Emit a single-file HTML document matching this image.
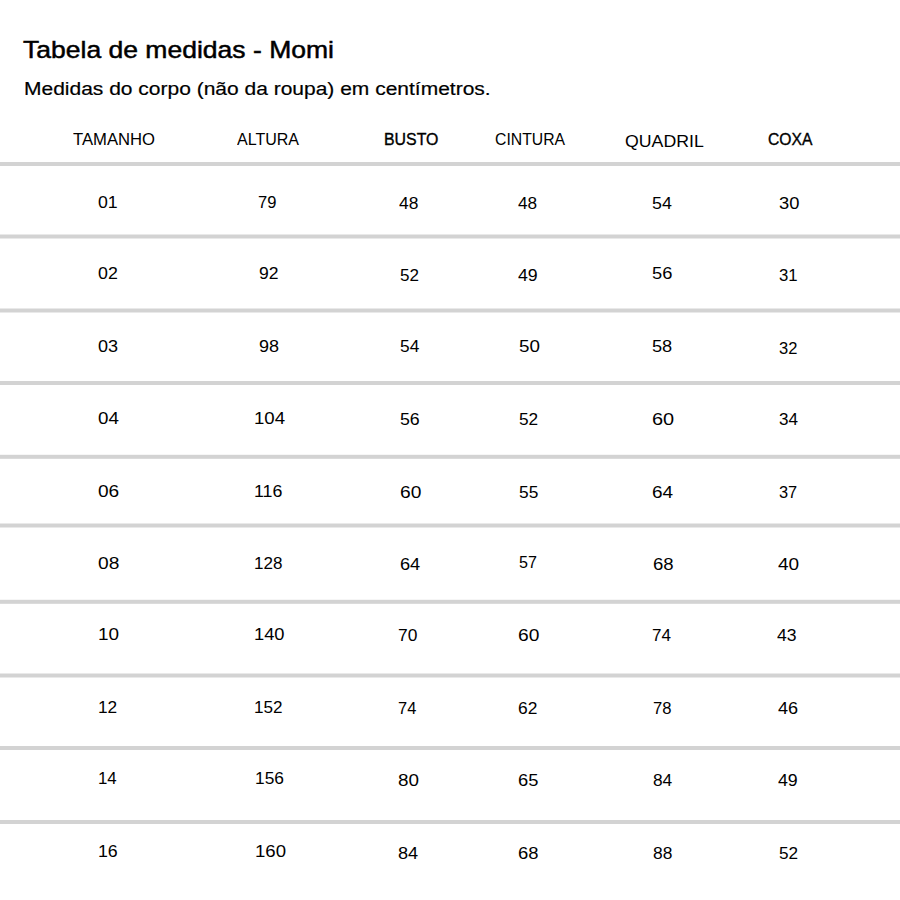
<!DOCTYPE html>
<html><head><meta charset="utf-8"><title>Tabela de medidas - Momi</title>
<style>
html,body{margin:0;padding:0;background:#fff;}
body{width:900px;height:900px;position:relative;overflow:hidden;font-family:"Liberation Sans",sans-serif;}
span{position:absolute;white-space:nowrap;line-height:1;transform-origin:0 0;}
svg{position:absolute;left:0;top:0;}
</style></head><body>
<svg width="900" height="900" viewBox="0 0 900 900"><g fill="#d3d3d3"><rect x="0" y="162.0" width="900" height="4"/><rect x="0" y="234.5" width="900" height="4"/><rect x="0" y="308.5" width="900" height="4"/><rect x="0" y="381.0" width="900" height="4"/><rect x="0" y="454.8" width="900" height="4"/><rect x="0" y="523.5" width="900" height="4"/><rect x="0" y="599.8" width="900" height="4"/><rect x="0" y="673.5" width="900" height="4"/><rect x="0" y="746.0" width="900" height="4"/><rect x="0" y="820.0" width="900" height="4"/></g></svg>
<span style="left:22.63px;top:37.66px;font-size:24.50px;font-weight:normal;color:#000;transform:scaleX(1.0823);-webkit-text-stroke:0.5px #000;">Tabela de medidas - Momi</span>
<span style="left:24.22px;top:79.37px;font-size:19.10px;font-weight:normal;color:#000;transform:scaleX(1.0992);-webkit-text-stroke:0.2px #000;">Medidas do corpo (não da roupa) em centímetros.</span>
<span style="left:72.81px;top:132.28px;font-size:16.00px;font-weight:normal;color:#000;transform:scaleX(1.0410);">TAMANHO</span>
<span style="left:236.85px;top:132.48px;font-size:16.00px;font-weight:normal;color:#000;transform:scaleX(1.0017);">ALTURA</span>
<span style="left:384.09px;top:132.43px;font-size:16.00px;font-weight:normal;color:#000;transform:scaleX(0.9925);-webkit-text-stroke:0.35px #000;">BUSTO</span>
<span style="left:495.43px;top:132.28px;font-size:16.00px;font-weight:normal;color:#000;transform:scaleX(0.9850);">CINTURA</span>
<span style="left:624.96px;top:132.88px;font-size:17.00px;font-weight:normal;color:#000;transform:scaleX(1.0423);">QUADRIL</span>
<span style="left:768.45px;top:132.41px;font-size:16.00px;font-weight:normal;color:#000;transform:scaleX(0.9773);-webkit-text-stroke:0.35px #000;">COXA</span>
<span style="left:98.43px;top:195.06px;font-size:16.00px;font-weight:normal;color:#000;transform:scaleX(1.1068);">01</span>
<span style="left:258.18px;top:195.04px;font-size:16.00px;font-weight:normal;color:#000;transform:scaleX(1.0345);">79</span>
<span style="left:399.30px;top:195.78px;font-size:16.00px;font-weight:normal;color:#000;transform:scaleX(1.0877);">48</span>
<span style="left:518.02px;top:195.79px;font-size:16.00px;font-weight:normal;color:#000;transform:scaleX(1.0746);">48</span>
<span style="left:652.35px;top:195.82px;font-size:16.00px;font-weight:normal;color:#000;transform:scaleX(1.1131);">54</span>
<span style="left:778.86px;top:195.75px;font-size:16.00px;font-weight:normal;color:#000;transform:scaleX(1.1453);">30</span>
<span style="left:98.22px;top:266.31px;font-size:16.00px;font-weight:normal;color:#000;transform:scaleX(1.1109);">02</span>
<span style="left:259.41px;top:265.79px;font-size:16.00px;font-weight:normal;color:#000;transform:scaleX(1.0965);">92</span>
<span style="left:399.67px;top:268.28px;font-size:16.00px;font-weight:normal;color:#000;transform:scaleX(1.0659);">52</span>
<span style="left:517.50px;top:268.23px;font-size:16.00px;font-weight:normal;color:#000;transform:scaleX(1.1079);">49</span>
<span style="left:652.16px;top:266.14px;font-size:16.00px;font-weight:normal;color:#000;transform:scaleX(1.1430);">56</span>
<span style="left:778.52px;top:268.01px;font-size:16.00px;font-weight:normal;color:#000;transform:scaleX(1.0458);">31</span>
<span style="left:97.72px;top:339.35px;font-size:16.00px;font-weight:normal;color:#000;transform:scaleX(1.1265);">03</span>
<span style="left:258.88px;top:338.81px;font-size:16.00px;font-weight:normal;color:#000;transform:scaleX(1.1252);">98</span>
<span style="left:400.48px;top:339.28px;font-size:16.00px;font-weight:normal;color:#000;transform:scaleX(1.0821);">54</span>
<span style="left:519.33px;top:339.28px;font-size:16.00px;font-weight:normal;color:#000;transform:scaleX(1.1749);">50</span>
<span style="left:651.77px;top:339.28px;font-size:16.00px;font-weight:normal;color:#000;transform:scaleX(1.1373);">58</span>
<span style="left:778.55px;top:341.27px;font-size:16.00px;font-weight:normal;color:#000;transform:scaleX(1.0329);">32</span>
<span style="left:97.70px;top:411.26px;font-size:16.00px;font-weight:normal;color:#000;transform:scaleX(1.1719);">04</span>
<span style="left:254.13px;top:411.25px;font-size:16.00px;font-weight:normal;color:#000;transform:scaleX(1.1644);">104</span>
<span style="left:399.99px;top:412.28px;font-size:16.00px;font-weight:normal;color:#000;transform:scaleX(1.1089);">56</span>
<span style="left:519.47px;top:412.28px;font-size:16.00px;font-weight:normal;color:#000;transform:scaleX(1.0780);">52</span>
<span style="left:651.92px;top:411.84px;font-size:16.00px;font-weight:normal;color:#000;transform:scaleX(1.2451);">60</span>
<span style="left:779.12px;top:412.26px;font-size:16.00px;font-weight:normal;color:#000;transform:scaleX(1.0658);">34</span>
<span style="left:97.73px;top:483.61px;font-size:16.00px;font-weight:normal;color:#000;transform:scaleX(1.1910);">06</span>
<span style="left:254.11px;top:484.39px;font-size:16.00px;font-weight:normal;color:#000;transform:scaleX(1.1127);">116</span>
<span style="left:399.58px;top:485.03px;font-size:16.00px;font-weight:normal;color:#000;transform:scaleX(1.1996);">60</span>
<span style="left:519.49px;top:485.48px;font-size:16.00px;font-weight:normal;color:#000;transform:scaleX(1.0820);">55</span>
<span style="left:652.09px;top:485.13px;font-size:16.00px;font-weight:normal;color:#000;transform:scaleX(1.1834);">64</span>
<span style="left:778.68px;top:485.48px;font-size:16.00px;font-weight:normal;color:#000;transform:scaleX(1.0238);">37</span>
<span style="left:98.38px;top:555.76px;font-size:16.00px;font-weight:normal;color:#000;transform:scaleX(1.1986);">08</span>
<span style="left:253.71px;top:555.82px;font-size:16.00px;font-weight:normal;color:#000;transform:scaleX(1.0649);">128</span>
<span style="left:400.34px;top:556.86px;font-size:16.00px;font-weight:normal;color:#000;transform:scaleX(1.1371);">64</span>
<span style="left:519.02px;top:554.52px;font-size:16.00px;font-weight:normal;color:#000;transform:scaleX(1.0056);">57</span>
<span style="left:652.62px;top:557.13px;font-size:16.00px;font-weight:normal;color:#000;transform:scaleX(1.1594);">68</span>
<span style="left:777.51px;top:557.00px;font-size:16.00px;font-weight:normal;color:#000;transform:scaleX(1.1867);">40</span>
<span style="left:97.94px;top:627.46px;font-size:16.00px;font-weight:normal;color:#000;transform:scaleX(1.1822);">10</span>
<span style="left:253.59px;top:627.38px;font-size:16.00px;font-weight:normal;color:#000;transform:scaleX(1.1434);">140</span>
<span style="left:397.82px;top:627.88px;font-size:16.00px;font-weight:normal;color:#000;transform:scaleX(1.0865);">70</span>
<span style="left:517.51px;top:627.98px;font-size:16.00px;font-weight:normal;color:#000;transform:scaleX(1.1996);">60</span>
<span style="left:651.87px;top:628.48px;font-size:16.00px;font-weight:normal;color:#000;transform:scaleX(1.0659);">74</span>
<span style="left:777.16px;top:628.46px;font-size:16.00px;font-weight:normal;color:#000;transform:scaleX(1.0974);">43</span>
<span style="left:98.15px;top:700.30px;font-size:16.00px;font-weight:normal;color:#000;transform:scaleX(1.0796);">12</span>
<span style="left:253.74px;top:700.28px;font-size:16.00px;font-weight:normal;color:#000;transform:scaleX(1.0690);">152</span>
<span style="left:397.86px;top:701.28px;font-size:16.00px;font-weight:normal;color:#000;transform:scaleX(1.0268);">74</span>
<span style="left:518.22px;top:701.25px;font-size:16.00px;font-weight:normal;color:#000;transform:scaleX(1.0872);">62</span>
<span style="left:652.71px;top:701.28px;font-size:16.00px;font-weight:normal;color:#000;transform:scaleX(1.0389);">78</span>
<span style="left:778.28px;top:700.84px;font-size:16.00px;font-weight:normal;color:#000;transform:scaleX(1.1282);">46</span>
<span style="left:98.01px;top:770.82px;font-size:16.00px;font-weight:normal;color:#000;transform:scaleX(1.0517);">14</span>
<span style="left:254.88px;top:770.68px;font-size:16.00px;font-weight:normal;color:#000;transform:scaleX(1.0833);">156</span>
<span style="left:397.86px;top:772.63px;font-size:16.00px;font-weight:normal;color:#000;transform:scaleX(1.1780);">80</span>
<span style="left:518.17px;top:772.68px;font-size:16.00px;font-weight:normal;color:#000;transform:scaleX(1.1431);">65</span>
<span style="left:652.71px;top:773.46px;font-size:16.00px;font-weight:normal;color:#000;transform:scaleX(1.0807);">84</span>
<span style="left:778.22px;top:773.43px;font-size:16.00px;font-weight:normal;color:#000;transform:scaleX(1.1096);">49</span>
<span style="left:98.46px;top:843.90px;font-size:16.00px;font-weight:normal;color:#000;transform:scaleX(1.1093);">16</span>
<span style="left:254.76px;top:843.56px;font-size:16.00px;font-weight:normal;color:#000;transform:scaleX(1.1607);">160</span>
<span style="left:398.16px;top:846.37px;font-size:16.00px;font-weight:normal;color:#000;transform:scaleX(1.1319);">84</span>
<span style="left:518.08px;top:846.47px;font-size:16.00px;font-weight:normal;color:#000;transform:scaleX(1.1506);">68</span>
<span style="left:652.74px;top:846.49px;font-size:16.00px;font-weight:normal;color:#000;transform:scaleX(1.0857);">88</span>
<span style="left:778.70px;top:846.48px;font-size:16.00px;font-weight:normal;color:#000;transform:scaleX(1.0733);">52</span>
</body></html>
